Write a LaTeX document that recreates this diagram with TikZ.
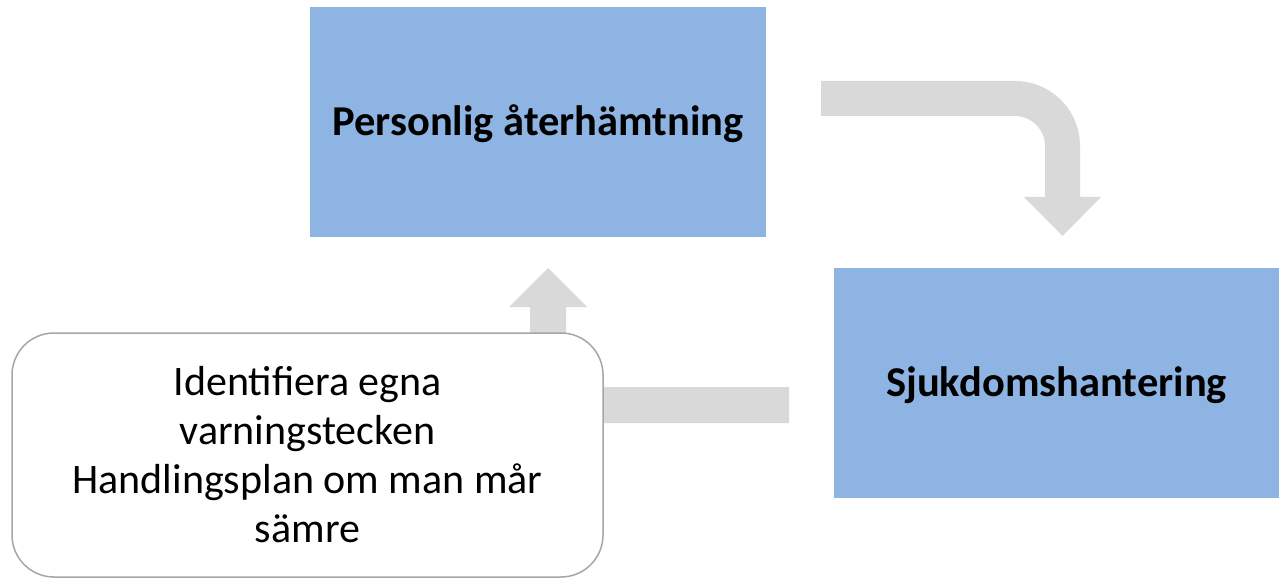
\documentclass[tikz,border=0pt]{standalone}
\usepackage{fontspec}
\setmainfont{Carlito}
\definecolor{boxblue}{HTML}{8EB4E3}
\definecolor{arrowgray}{HTML}{D9D9D9}
\definecolor{framegray}{HTML}{A6A6A6}
\tikzset{
  bluebox/.style={rectangle, fill=boxblue, draw=none, inner sep=0pt,
    minimum height=230pt, text height=27pt, text depth=0pt,
    font=\fontsize{42.5}{50}\selectfont\bfseries},
  notebox/.style={rectangle, rounded corners=42pt, fill=white, draw=framegray,
    line width=1.5pt, inner sep=0pt, minimum width=591pt, minimum height=244pt,
    align=center, font=\fontsize{42}{49}\selectfont},
  blockarrow/.style={fill=arrowgray, draw=none}
}
\begin{document}
\begin{tikzpicture}[x=1pt,y=-1pt]
\useasboundingbox (0,0) rectangle (1279,580);

% process boxes
\node[bluebox, minimum width=456pt] (recovery) at (538,122) {Personlig återhämtning};
\node[bluebox, minimum width=445pt] (illness) at (1056.5,383) {Sjukdomshantering};

% bent arrow from the recovery box down to illness management
\coordinate (curvestart) at (821,81);
\fill[blockarrow] (curvestart) -- (1015,81) arc[start angle=90, end angle=0, radius=65pt]
  -- (1080,197) -- (1101,197) -- (1062.5,236) -- (1024,197) -- (1045,197)
  -- (1045,146) arc[start angle=0, end angle=90, radius=30pt]
  -- (821,116) -- cycle;

% return arrow from illness management back up to recovery
\coordinate (returnstart) at (789,387);
\fill[blockarrow] (returnstart) -- (566,387) -- (566,307) -- (587,307) -- (548,268)
  -- (509,307) -- (530,307) -- (530,423) -- (789,423) -- cycle;

% warning-sign note
\node[notebox] (plan) at (307.5,455) {Identifiera egna\\varningstecken\\Handlingsplan om man mår\\sämre};
\end{tikzpicture}
\end{document}
